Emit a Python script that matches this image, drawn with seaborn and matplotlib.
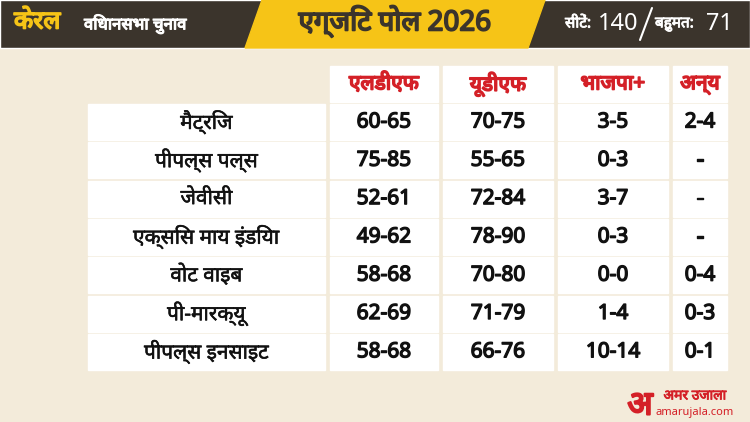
import matplotlib
matplotlib.use("Agg")
import matplotlib.pyplot as plt
import matplotlib.patheffects as pe
import seaborn as sns
import numpy as np
from matplotlib.patches import Polygon

pollsters = ["मैट्रिज", "पीपल्स पल्स", "जेवीसी", "एक्सिस माय इंडिया", "वोट वाइब", "पी-मारक्यू", "पीपल्स इनसाइट"]
columns = ["एलडीएफ", "यूडीएफ", "भाजपा+", "अन्य"]
ldf = ["60-65", "75-85", "52-61", "49-62", "58-68", "62-69", "58-68"]
udf = ["70-75", "55-65", "72-84", "78-90", "70-80", "71-79", "66-76"]
bjp = ["3-5", "0-3", "3-7", "0-3", "0-0", "1-4", "10-14"]
others = ["2-4", "-", "-", "-", "0-4", "0-3", "0-1"]
title_left = "केरल"
title_sub = "विधानसभा चुनाव"
title_mid = "एग्जिट पोल 2026"
seats_label, seats = "सीटें:", "140"
major_label, major = "बहुमत:", "71"

sns.set_theme(style="white")
plt.rcParams['font.family'] = ['Noto Sans', 'DejaVu Sans']
BG = "#f3ebda"

def bold(c, w=1.0):
    return [pe.withStroke(linewidth=w, foreground=c)]

fig = plt.figure(figsize=(7.5, 4.22), dpi=100, facecolor=BG)
ax = fig.add_axes([0, 0, 1, 1])
ax.set_facecolor(BG)
ax.set_xlim(0, 750); ax.set_ylim(422, 0); ax.axis("off")

ax.barh([24], [750], left=0, height=48, color="#3b342c")
ax.add_patch(Polygon([[262, 0], [545, 0], [528, 48], [245, 48]], color="#f6c417"))
ax.text(14, 22, title_left, color="#f6c417", fontsize=18, fontweight="bold", va="center", path_effects=bold("#f6c417", 1.2))
ax.text(84, 24, title_sub, color="white", fontsize=12, va="center", path_effects=bold("white", 0.8))
ax.text(395, 22, title_mid, color="#3b342c", fontsize=20, va="center", ha="center", path_effects=bold("#3b342c", 1.3))
ax.text(565, 24, seats_label, color="white", fontsize=11, va="center", path_effects=bold("white", 0.6))
ax.text(598, 24, seats, color="white", fontsize=17, va="center")
ax.plot([640, 652], [40, 8], color="white", lw=1.5)
ax.text(655, 24, major_label, color="white", fontsize=11, va="center", path_effects=bold("white", 0.6))
ax.text(706, 24, major, color="white", fontsize=17, va="center")

col_left = [330, 443, 558, 673]
col_w = [108, 110, 110, 54]
name_left, name_w = 88, 237
row_h, row_gap, top = 36, 2.3, 104
centers = [top + row_h / 2 + i * (row_h + row_gap) for i in range(len(pollsters))]

hy = 84
for cl, cw, c in zip(col_left, col_w, columns):
    ax.barh([hy], [cw], left=cl, height=36, color="white")
    ax.text(cl + cw / 2, hy, c, color="#d42027", fontsize=15, ha="center", va="center", path_effects=bold("#d42027", 1.2))

ax.barh(centers, [name_w] * len(centers), left=name_left, height=row_h, color="white")
for cl, cw in zip(col_left, col_w):
    ax.barh(centers, [cw] * len(centers), left=cl, height=row_h, color="white")

for i, y in enumerate(centers):
    ax.text(name_left + name_w / 2, y, pollsters[i], fontsize=15, ha="center", va="center", color="#111", path_effects=bold("#111", 0.4))
    for cl, cw, vals in zip(col_left, col_w, [ldf, udf, bjp, others]):
        ax.text(cl + cw / 2, y, vals[i], fontsize=15, ha="center", va="center", color="#111", path_effects=bold("#111", 1.0))

ax.text(640, 406, "अ", color="#d42027", fontsize=24, ha="center", va="center", path_effects=bold("#d42027", 1.5))
ax.text(695, 396, "अमर उजाला", color="#d42027", fontsize=10, ha="center", va="center", path_effects=bold("#d42027", 0.6))
ax.text(695, 412, "amarujala.com", color="#d42027", fontsize=8, ha="center", va="center")

fig.savefig("out.png", dpi=100, facecolor=BG)
